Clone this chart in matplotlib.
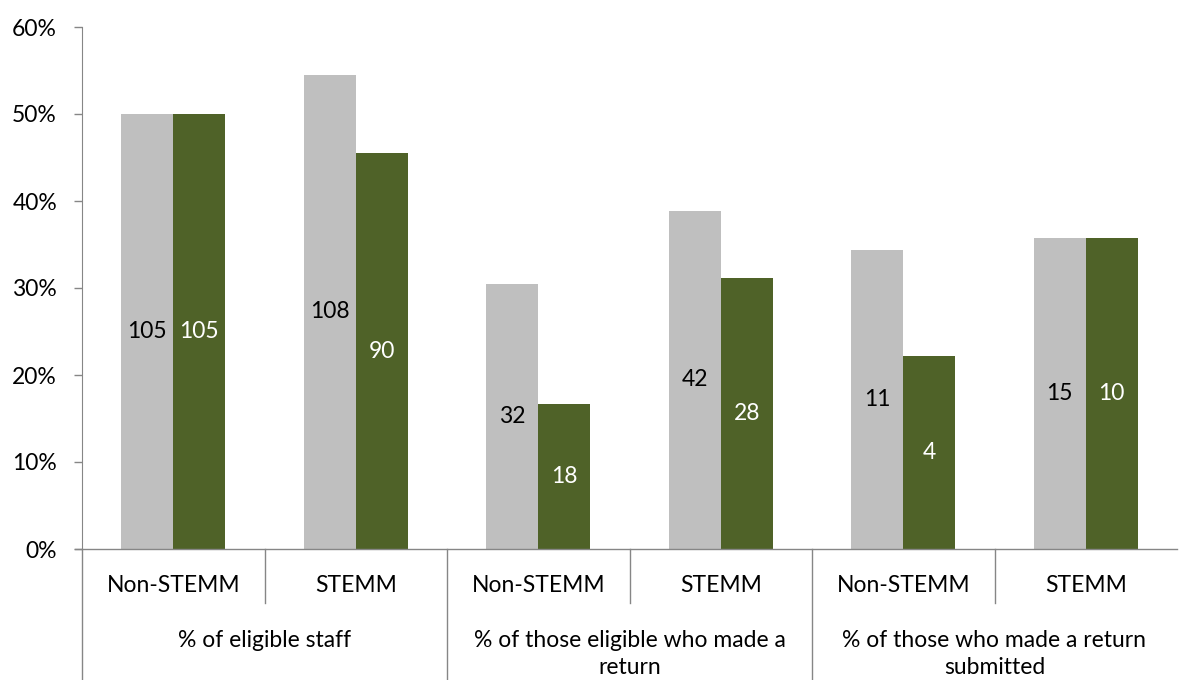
import matplotlib
matplotlib.use('Agg')
import matplotlib.pyplot as plt
import matplotlib.transforms as mtransforms
import numpy as np

# data
groups = ['% of eligible staff', '% of those eligible who made a\nreturn',
          '% of those who made a return\nsubmitted']
subcats = ['Non-STEMM', 'STEMM', 'Non-STEMM', 'STEMM', 'Non-STEMM', 'STEMM']
gray_pct = [50.0, 54.5, 30.5, 38.9, 34.4, 35.7]
green_pct = [50.0, 45.5, 16.7, 31.1, 22.2, 35.7]
gray_n = [105, 108, 32, 42, 11, 15]
green_n = [105, 90, 18, 28, 4, 10]

GRAY = '#BFBFBF'
GREEN = '#4F6228'
AXIS = '#868686'

plt.rcParams['font.family'] = ['Lato', 'DejaVu Sans']
fs = 16.5

fig = plt.figure(figsize=(11.79, 6.80), dpi=100)
W, H = 1179, 680
ax = fig.add_axes([82 / W, (H - 549) / H, (1177 - 82) / W, (549 - 27) / H])

x = np.arange(len(subcats))
bw = 0.284
ax.bar(x - bw / 2, gray_pct, bw, color=GRAY)
ax.bar(x + bw / 2, green_pct, bw, color=GREEN)

for i in range(len(x)):
	ax.text(x[i] - bw / 2, gray_pct[i] / 2, str(gray_n[i]), ha='center', va='center',
	        fontsize=fs, color='black')
	ax.text(x[i] + bw / 2, green_pct[i] / 2, str(green_n[i]), ha='center', va='center',
	        fontsize=fs, color='white')

ax.set_xlim(-0.5, 5.5)
ax.set_ylim(0, 60)
ax.set_yticks(np.arange(0, 61, 10))
ax.set_yticklabels([f'{v}%' for v in range(0, 61, 10)], fontsize=fs)
ax.tick_params(axis='y', direction='out', length=6, color=AXIS, width=1, pad=12)
ax.set_xticks([])

for s in ['top', 'right', 'bottom']:
	ax.spines[s].set_visible(False)
ax.spines['left'].set_color(AXIS)

trans = mtransforms.blended_transform_factory(ax.transData, ax.transAxes)
ah = 549 - 27
# horizontal category axis line
ax.plot([-0.5 - 7 / 182.5, 5.5], [0, 0], color=AXIS, lw=1, transform=trans, clip_on=False)
# left line down to the bottom
ax.plot([-0.5, -0.5], [0, -(680 - 549) / ah], color=AXIS, lw=1, transform=trans, clip_on=False)
# inner separators
for b in [0.5, 2.5, 4.5]:
	ax.plot([b, b], [0, -(603 - 549) / ah], color=AXIS, lw=1, transform=trans, clip_on=False)
# group separators
for b in [1.5, 3.5]:
	ax.plot([b, b], [0, -(680 - 549) / ah], color=AXIS, lw=1, transform=trans, clip_on=False)

for i, lab in enumerate(subcats):
	ax.text(x[i], -(585 - 549) / ah, lab, ha='center', va='center', fontsize=fs, transform=trans)
for g, lab in enumerate(groups):
	ax.text(2 * g + 0.5, -(630 - 549) / ah, lab, ha='center', va='top', fontsize=fs,
	        transform=trans, linespacing=1.35, multialignment='center')

fig.savefig('out.png', dpi=100)
